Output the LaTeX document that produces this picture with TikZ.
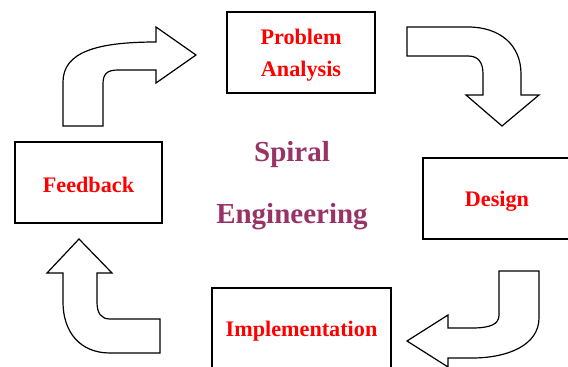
\documentclass[tikz,border=0pt]{standalone}
\usepackage{fontspec}
\setmainfont{Liberation Serif}
\begin{document}
\begin{tikzpicture}[x=1pt,y=-1pt,
  stagebox/.style={draw=black,line width=1.6pt,inner sep=0pt},
  stagelabel/.style={inner sep=0pt,align=center,text=red,yshift=-2.5pt,
    font=\bfseries\fontsize{22.2}{32}\selectfont},
  bentarrow/.style={draw=black,line width=1.2pt,fill=white,line join=miter},
  titletext/.style={text=spiralpurple,font=\bfseries\fontsize{29}{34}\selectfont}]
\definecolor{spiralpurple}{HTML}{993366}
\useasboundingbox (0,0) rectangle (568,367);
\clip (0,0) rectangle (568,367);

% stage boxes
\node[stagebox,minimum width=148pt,minimum height=81pt] (analysis) at (301,52.5) {};
\node[stagebox,minimum width=148pt,minimum height=81pt] (design) at (497,198.5) {};
\node[stagebox,minimum width=179pt,minimum height=82pt] (impl) at (301.5,329) {};
\node[stagebox,minimum width=147pt,minimum height=81pt] (feedback) at (88.5,182.5) {};

% stage labels
\node[stagelabel] (analysistext) at (analysis.center) {Problem\\Analysis};
\node[stagelabel] (designtext) at (design.center) {Design};
\node[stagelabel] (impltext) at (impl.center) {Implementation};
\node[stagelabel] (feedbacktext) at (feedback.center) {Feedback};

% centre title
\node[titletext] (spiral) at (292,154.5) {Spiral};
\node[titletext] (engineering) at (292,216.5) {Engineering};

% bent block arrows between the stages
% feedback -> problem analysis
\draw[bentarrow] (63,126) -- (63,82) .. controls (63,52) and (97,42) .. (156,42)
  -- (156,27) -- (196,55) -- (156,83) -- (156,70) -- (118,70)
  .. controls (107,70) and (103,74) .. (103,84) -- (103,126) -- cycle;
% problem analysis -> design
\draw[bentarrow] (407,27) -- (468,27) .. controls (500,27) and (521,45) .. (521,74)
  -- (521,95) -- (539,95) -- (502,126) -- (466,95) -- (483,95) -- (483,74)
  .. controls (483,62) and (478,56) .. (468,56) -- (407,56) -- cycle;
% design -> implementation
\draw[bentarrow] (499,271) -- (539,271) -- (539,318)
  .. controls (539,345) and (508,358) .. (472,358) -- (448,358) -- (448,367)
  -- (407,341) -- (448,315) -- (448,328) -- (472,328)
  .. controls (491,328) and (499,324) .. (499,315) -- cycle;
% implementation -> feedback
\draw[bentarrow] (79,239) -- (112,273) -- (97,273) -- (97,302)
  .. controls (97,313) and (101,319) .. (110,319) -- (160,319) -- (160,353)
  -- (110,353) .. controls (80,353) and (63,332) .. (63,302) -- (63,273)
  -- (47,273) -- cycle;
\end{tikzpicture}
\end{document}
